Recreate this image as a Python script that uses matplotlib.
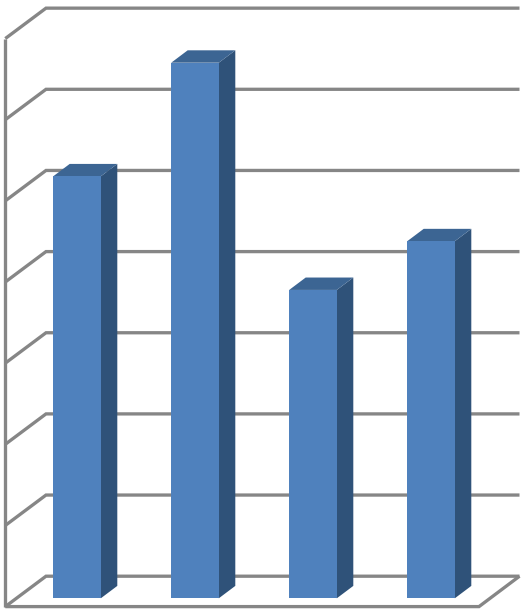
import matplotlib
matplotlib.use("Agg")
import matplotlib.pyplot as plt
from matplotlib.patches import Polygon

categories = ["A", "B", "C", "D"]
values = [5.2, 6.6, 3.8, 4.4]
grid_levels = [0, 1, 2, 3, 4, 5, 6, 7]

W, H = 527, 612
PX_X = 118.0      # pixels per category
PX_Y = 81.15      # pixels per value unit
X0_PX = 77.0      # pixel x of the first category centre
Y0_PX = 598.3     # pixel y of value 0 on the bar front plane

FRONT = "#4F81BD"
SIDE = "#2F5279"
TOP = "#3C6593"
GRID = "#868686"

fig = plt.figure(figsize=(W / 100, H / 100), dpi=100, facecolor="white")
ax = fig.add_axes([0, 0, 1, 1])
ax.set_xlim((0 - X0_PX) / PX_X, (W - X0_PX) / PX_X)
ax.set_ylim((Y0_PX - H) / PX_Y, Y0_PX / PX_Y)
ax.axis("off")

# offsets in data units
bar_w = 47.6 / PX_X
bar_dx, bar_dy = 16.5 / PX_X, 12.4 / PX_Y
wall_left = (5.3 - X0_PX) / PX_X
wall_back_left = (46.0 - X0_PX) / PX_X
wall_back_right = (519.5 - X0_PX) / PX_X
floor_front_right = (479.0 - X0_PX) / PX_X
back_y = (Y0_PX - 576.2) / PX_Y
front_y = (Y0_PX - 606.6) / PX_Y

lw = 3.3 * 72 / 100
style = dict(color=GRID, lw=lw, solid_capstyle="butt", solid_joinstyle="miter", zorder=1)

for g in grid_levels:
    ax.plot([wall_left, wall_back_left, wall_back_right],
            [g + front_y, g + back_y, g + back_y], **style)
ax.plot([wall_left, wall_left], [front_y, grid_levels[-1] + front_y], **style)
ax.plot([wall_left, floor_front_right, wall_back_right],
        [front_y, front_y, back_y], **style)

xs = list(range(len(categories)))
ax.bar(xs, values, width=bar_w, color=FRONT, linewidth=0, zorder=3)
for x, v in zip(xs, values):
    l, r = x - bar_w / 2, x + bar_w / 2
    ax.add_patch(Polygon([(r, 0), (r + bar_dx, bar_dy), (r + bar_dx, v + bar_dy), (r, v)],
                         closed=True, facecolor=SIDE, edgecolor="none", zorder=2))
    ax.add_patch(Polygon([(l, v), (r, v), (r + bar_dx, v + bar_dy), (l + bar_dx, v + bar_dy)],
                         closed=True, facecolor=TOP, edgecolor="none", zorder=2))

fig.savefig("out.png", dpi=100, facecolor="white")
